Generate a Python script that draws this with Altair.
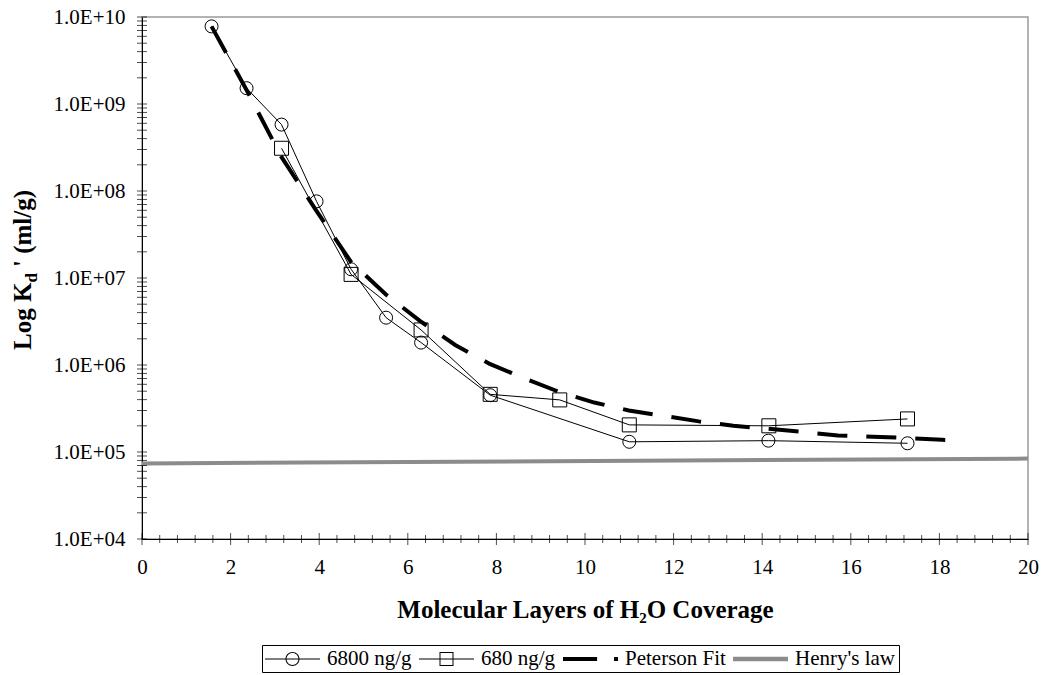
import altair as alt
import pandas as pd
import numpy as np

FONT = "Liberation Serif"

# ---- data ----
c6800_x = [1.57, 2.36, 3.15, 3.94, 4.72, 5.51, 6.30, 7.86, 11.0, 14.14, 17.28]
c6800_y = [7.8e9, 1.52e9, 5.8e8, 7.6e7, 1.26e7, 3.5e6, 1.81e6, 4.5e5, 1.31e5, 1.35e5, 1.26e5]

s680_x = [3.15, 4.72, 6.30, 7.86, 9.43, 11.0, 14.15, 17.28]
s680_y = [3.1e8, 1.1e7, 2.53e6, 4.6e5, 3.97e5, 2.05e5, 2.0e5, 2.4e5]

pet_x = [1.57, 2.36, 3.14, 3.93, 4.71, 5.50, 6.28, 7.07, 7.85, 8.64, 9.42, 10.21,
         10.99, 11.78, 12.57, 13.35, 14.14, 14.92, 15.71, 16.49, 17.28, 18.06, 18.44]
pet_y = [7.8e9, 1.45e9, 2.5e8, 6.0e7, 1.55e7, 6.5e6, 3.2e6, 1.7e6, 1.03e6, 7.0e5, 4.9e5, 3.7e5,
         3.0e5, 2.6e5, 2.25e5, 2.0e5, 1.85e5, 1.7e5, 1.55e5, 1.5e5, 1.45e5, 1.38e5, 1.36e5]

henry_x = [0, 20]
henry_y = [7.4e4, 8.4e4]

series_names = ["6800 ng/g", "680 ng/g", "Peterson Fit", "Henry's law"]

x_major = [0, 2, 4, 6, 8, 10, 12, 14, 16, 18, 20]
x_minor = [round(v, 1) for v in np.arange(0, 20.01, 0.4) if abs(v / 2 - round(v / 2)) > 1e-6]
y_major = [1e4, 1e5, 1e6, 1e7, 1e8, 1e9, 1e10]
y_minor = [m * k for m in y_major[:-1] for k in range(2, 10)]

W, H = 886, 522


def frame(xs, ys):
    return pd.DataFrame({"x": xs, "y": ys})


xs = alt.Scale(domain=[0, 20], nice=False, zero=False)
ys = alt.Scale(type="log", domain=[1e4, 1e10], nice=False)

x_enc = alt.X(
    "x:Q", scale=xs,
    axis=alt.Axis(values=x_major, ticks=False, grid=False, domainColor="black", domainWidth=1,
                  labelFont=FONT, labelFontSize=21, labelColor="black", labelBaseline="alphabetic",
                  labelPadding=34, labelFlush=False,
                  title="Molecular Layers of H₂O Coverage", titleFont=FONT, titleFontSize=25,
                  titleFontWeight="bold", titleColor="black", titleY=78, titleBaseline="alphabetic"))
y_enc = alt.Y(
    "y:Q", scale=ys,
    axis=alt.Axis(values=y_major, ticks=False, grid=False, domainColor="black", domainWidth=1,
                  labelFont=FONT, labelFontSize=21, labelColor="black", labelPadding=17,
                  labelExpr="'1.0E+' + format(round(log(datum.value)/LN10), '02d')",
                  title=None))

henry = alt.Chart(frame(henry_x, henry_y)).mark_line(color="#8c8c8c", strokeWidth=4).encode(x=x_enc, y=y_enc)
pet = alt.Chart(frame(pet_x, pet_y)).mark_line(
    color="black", strokeWidth=4, strokeDash=[30, 19], strokeCap="butt").encode(x="x:Q", y="y:Q")
l6800 = alt.Chart(frame(c6800_x, c6800_y)).mark_line(color="black", strokeWidth=1).encode(x="x:Q", y="y:Q")
p6800 = alt.Chart(frame(c6800_x, c6800_y)).mark_point(
    shape="circle", size=169, filled=False, color="black", strokeWidth=1, opacity=1).encode(x="x:Q", y="y:Q")
l680 = alt.Chart(frame(s680_x, s680_y)).mark_line(color="black", strokeWidth=1).encode(x="x:Q", y="y:Q")
p680 = alt.Chart(frame(s680_x, s680_y)).mark_point(
    shape="square", size=196, filled=False, color="black", strokeWidth=1, opacity=1).encode(x="x:Q", y="y:Q")

# axis ticks crossing the axis lines
xt_minor = alt.Chart(pd.DataFrame({"x": x_minor})).mark_tick(
    orient="vertical", thickness=1, size=8, color="black").encode(x="x:Q", y=alt.datum(1e4))
xt_major = alt.Chart(pd.DataFrame({"x": x_major})).mark_tick(
    orient="vertical", thickness=1, size=12, color="black").encode(x="x:Q", y=alt.datum(1e4))
yt = alt.Chart(pd.DataFrame({"y": y_major + y_minor})).mark_tick(
    orient="horizontal", thickness=1, size=10, color="black").encode(y="y:Q", x=alt.datum(0))

# legend symbols as filled outlines (unit = 11 px, symbol spans -1..4)
LINE = "M-1,-0.045L4,-0.045L4,0.045L-1,0.045Z"
paths = [
    LINE
    + "M0.864,0A0.636,0.636 0 1,1 2.136,0A0.636,0.636 0 1,1 0.864,0Z"
    + "M0.955,0A0.545,0.545 0 1,0 2.045,0A0.545,0.545 0 1,0 0.955,0Z",
    LINE
    + "M0.864,-0.636L2.136,-0.636L2.136,0.636L0.864,0.636Z"
    + "M0.955,-0.545L0.955,0.545L2.045,0.545L2.045,-0.545Z",
    "M-1,-0.18L2.1,-0.18L2.1,0.18L-1,0.18Z"
    + "M3.64,-0.18L4,-0.18L4,0.18L3.64,0.18Z",
    "M-1,-0.2L4,-0.2L4,0.2L-1,0.2Z",
]
leg = alt.Legend(title=None)
leg_df = pd.DataFrame({"series": series_names, "x": [henry_x[0]] * 4, "y": [henry_y[0]] * 4})
legend_layer = alt.Chart(leg_df).mark_point(filled=True, opacity=0).encode(
    x="x:Q", y="y:Q",
    shape=alt.Shape("series:N", scale=alt.Scale(domain=series_names, range=paths), legend=leg),
    color=alt.Color("series:N", scale=alt.Scale(domain=series_names, range=["black", "black", "black", "#8c8c8c"]),
                    legend=leg),
)

# y title with subscript d
def ytext(txt, x, y, size):
    return alt.Chart(pd.DataFrame({"t": [txt]})).mark_text(
        angle=270, align="left", baseline="alphabetic", font=FONT, fontSize=size, fontWeight="bold",
        color="black").encode(text="t:N", x=alt.value(x), y=alt.value(y))

yt1 = ytext("Log K", -111, 333, 25)
yt2 = ytext("d", -105, 265.6, 17)
yt3 = ytext("' (ml/g)", -111, 250, 25)

chart = alt.layer(
    henry, pet, l6800, l680, p6800, p680, xt_minor, xt_major, yt, legend_layer, yt1, yt2, yt3
).properties(
    width=W, height=H,
    padding={"left": 142, "top": 17, "right": 15, "bottom": 136},
    autosize=alt.AutoSizeParams(type="none"),
).configure(
    font=FONT
).configure_axis(
    labelFont=FONT, titleFont=FONT
).configure_view(
    stroke="#999999", strokeWidth=1.5
).configure_legend(
    orient="none", legendX=120, legendY=628, direction="horizontal",
    strokeColor="black", fillColor="white", padding=3,
    symbolSize=484, labelOffset=40, columnPadding=7, symbolStrokeWidth=0,
    labelFont=FONT, labelFontSize=21, labelColor="black", symbolOpacity=1, labelLimit=300,
)

chart.save("out.html", embed_options={"renderer": "svg", "actions": False})
